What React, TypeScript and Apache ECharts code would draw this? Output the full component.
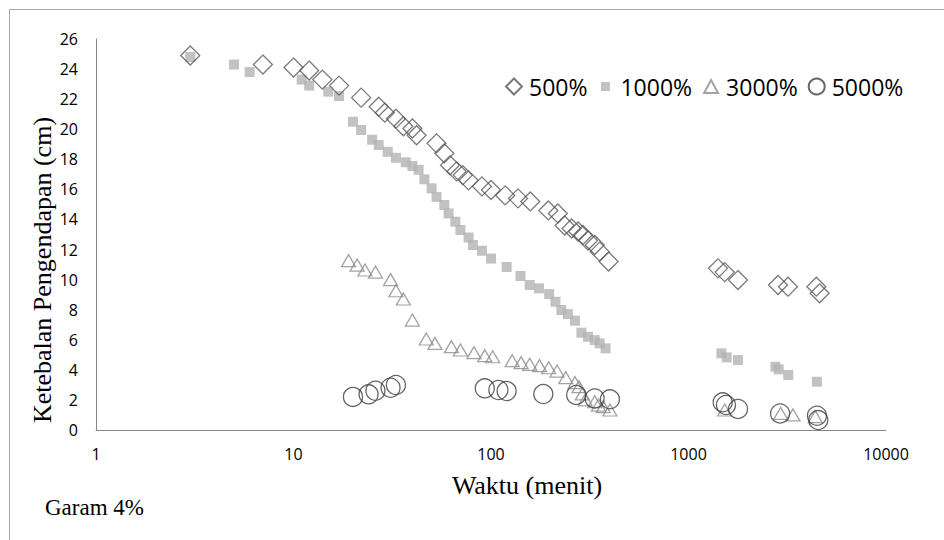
import React, { useEffect, useRef } from "react";
import * as echarts from "echarts";

const t500 = [3, 7, 10, 12, 14, 17, 22, 27, 29, 33, 36, 40, 42, 53, 58, 62, 67, 72, 77, 90, 100, 118, 137, 158, 195, 218, 236, 256, 276, 292, 310, 335, 355, 394, 1410, 1525, 1780, 2840, 3190, 4440, 4610];
const v500 = [24.9, 24.3, 24.1, 23.9, 23.3, 22.9, 22.1, 21.5, 21.1, 20.7, 20.2, 20.05, 19.6, 19.06, 18.4, 17.6, 17.2, 16.95, 16.6, 16.2, 15.96, 15.6, 15.4, 15.2, 14.6, 14.4, 13.6, 13.4, 13.2, 12.97, 12.6, 12.3, 11.86, 11.2, 10.75, 10.5, 9.97, 9.64, 9.53, 9.53, 9.09];

const t1000 = [3, 5, 6, 11, 12, 15, 17, 20, 22, 25, 27, 30, 33, 37, 40, 43, 46, 50, 53, 58, 61, 66, 70, 77, 81, 90, 100, 120, 141, 157, 175, 197, 212, 227, 245, 266, 287, 310, 335, 355, 380, 1467, 1561, 1781, 2755, 2862, 3200, 4470];
const v1000 = [24.8, 24.3, 23.8, 23.3, 22.9, 22.5, 22.2, 20.5, 19.95, 19.3, 18.95, 18.5, 18.1, 17.8, 17.55, 17.3, 16.67, 16.07, 15.5, 14.96, 14.4, 13.85, 13.3, 12.8, 12.3, 11.92, 11.4, 10.84, 10.24, 9.64, 9.42, 9.04, 8.53, 7.98, 7.71, 7.27, 6.47, 6.2, 5.98, 5.76, 5.43, 5.1, 4.83, 4.65, 4.21, 4.03, 3.66, 3.21];

const t3000 = [19, 21, 23, 26, 31, 33, 36, 40, 47, 52, 63, 70, 82, 93, 102, 128, 142, 157, 176, 196, 216, 239, 266, 279, 290, 300, 335, 350, 370, 400, 1525, 2930, 3380, 4385];
const v3000 = [11.26, 10.97, 10.64, 10.5, 10.0, 9.26, 8.71, 7.31, 6.05, 5.76, 5.54, 5.32, 5.14, 4.94, 4.87, 4.61, 4.48, 4.37, 4.28, 4.14, 3.92, 3.48, 3.15, 2.88, 2.4, 2.0, 1.88, 1.66, 1.55, 1.33, 1.33, 1.1, 1.0, 0.89];

const t5000 = [20, 24, 26, 31, 33, 93, 109, 120, 184, 270, 335, 400, 1490, 1548, 1781, 2910, 4470, 4540];
const v5000 = [2.2, 2.37, 2.61, 2.81, 2.99, 2.77, 2.66, 2.59, 2.39, 2.33, 2.1, 2.04, 1.84, 1.66, 1.4, 1.1, 0.95, 0.66];

const seriesNames = ["500%", "1000%", "3000%", "5000%"];
const xTicks = [1, 10, 100, 1000, 10000];
const yMin = 0;
const yMax = 26;
const yStep = 2;

const zip = (a: number[], b: number[]) => a.map((x, i) => [x, b[i]]);

export default function App() {
  const ref = useRef<HTMLDivElement>(null);
  useEffect(() => {
    if (!ref.current) return;
    const chart = echarts.init(ref.current, undefined, { renderer: "svg" });
    const sans = "'Open Sans', sans-serif";
    const serif = "'Liberation Serif', serif";
    const option: any = {
      animation: false,
      backgroundColor: "#ffffff",
      grid: { left: 96, right: 58, top: 39, bottom: 110, containLabel: false },
      legend: {
        left: 500,
        top: 70,
        itemWidth: 16,
        itemHeight: 16,
        itemGap: 10,
        textStyle: { fontFamily: sans, fontSize: 23, color: "#000000", padding: [0, 0, 0, 2] },
        data: [
          { name: seriesNames[0], icon: "diamond" },
          { name: seriesNames[1], icon: "path://M0,0 M3.5,3.5 L12.5,3.5 L12.5,12.5 L3.5,12.5 Z M16,16" },
          { name: seriesNames[2], icon: "path://M0,0 M8,1.5 L15,14.5 L1,14.5 Z M16,16" },
          { name: seriesNames[3], icon: "circle" },
        ],
      },
      xAxis: {
        type: "log",
        logBase: 10,
        min: xTicks[0],
        max: xTicks[xTicks.length - 1],
        axisLine: { show: true, lineStyle: { color: "#868686", width: 1 } },
        axisTick: { show: false },
        splitLine: { show: false },
        minorTick: { show: false },
        axisLabel: {
          margin: 16,
          fontFamily: sans,
          fontSize: 16,
          color: "#000000",
          formatter: (v: number) => String(Math.round(v)),
        },
      },
      yAxis: {
        type: "value",
        min: yMin,
        max: yMax,
        interval: yStep,
        axisLine: { show: true, lineStyle: { color: "#868686", width: 1 } },
        axisTick: { show: false },
        splitLine: { show: false },
        axisLabel: { margin: 18, fontFamily: sans, fontSize: 16, color: "#000000" },
      },
      graphic: [
        {
          type: "rect",
          silent: true,
          shape: { x: 9.5, y: 9.5, width: 960, height: 560 },
          style: { fill: "none", stroke: "#a6a6a6", lineWidth: 1 },
          z: -1,
        },
        {
          type: "text",
          x: 42,
          y: 270,
          rotation: Math.PI / 2,
          style: {
            text: "Ketebalan Pengendapan (cm)",
            fontFamily: serif,
            fontSize: 26,
            fill: "#000000",
            align: "center",
            verticalAlign: "middle",
          },
        },
        {
          type: "text",
          x: 527,
          y: 485,
          style: {
            text: "Waktu (menit)",
            fontFamily: serif,
            fontSize: 26,
            fill: "#000000",
            align: "center",
            verticalAlign: "middle",
          },
        },
        {
          type: "text",
          x: 45,
          y: 507,
          style: {
            text: "Garam 4%",
            fontFamily: serif,
            fontSize: 23,
            fill: "#000000",
            align: "left",
            verticalAlign: "middle",
          },
        },
      ],
      series: [
        {
          name: seriesNames[0],
          type: "scatter",
          symbol: "diamond",
          symbolSize: 19,
          data: zip(t500, v500),
          itemStyle: { color: "rgba(255,255,255,0)", borderColor: "#595959", borderWidth: 1.3 },
          z: 4,
        },
        {
          name: seriesNames[1],
          type: "scatter",
          symbol: "rect",
          symbolSize: 10,
          data: zip(t1000, v1000),
          itemStyle: { color: "#b3b3b3", borderWidth: 0 },
          z: 3,
        },
        {
          name: seriesNames[2],
          type: "scatter",
          symbol: "triangle",
          symbolSize: [14, 12],
          data: zip(t3000, v3000),
          itemStyle: { color: "rgba(255,255,255,0)", borderColor: "#8c8c8c", borderWidth: 1.3 },
          z: 5,
        },
        {
          name: seriesNames[3],
          type: "scatter",
          symbol: "circle",
          symbolSize: 19,
          data: zip(t5000, v5000),
          itemStyle: { color: "rgba(255,255,255,0)", borderColor: "#404040", borderWidth: 1.3 },
          z: 6,
        },
      ],
    };
    chart.setOption(option);
    return () => chart.dispose();
  }, []);
  return (
    <div
      ref={ref}
      style={{ position: "fixed", left: 0, top: 0, width: 944, height: 540 }}
    />
  );
}
